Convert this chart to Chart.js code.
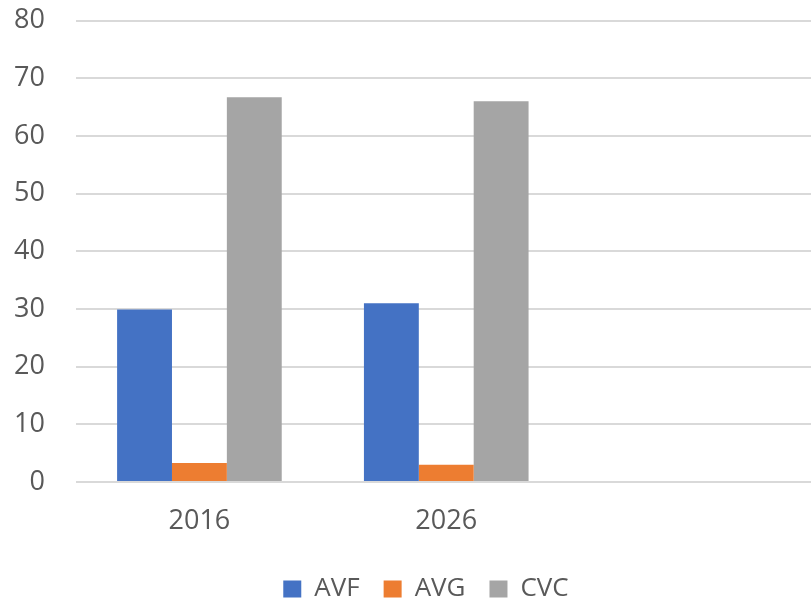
<!DOCTYPE html>
<html>
<head>
<meta charset="utf-8">
<script src="https://cdn.jsdelivr.net/npm/chart.js@4"></script>
<style>
  html, body { margin: 0; padding: 0; background: #fff; overflow: hidden; }
  #wrap { width: 852px; height: 612px; }
</style>
</head>
<body>
<div id="wrap"><canvas id="grafico"></canvas></div>
<script>
const anios = ['2016', '2026', ''];
const avf = [29.9, 31.0, null];
const avg = [3.3, 3.0, null];
const cvc = [66.7, 66.0, null];
const ticksY = [0, 10, 20, 30, 40, 50, 60, 70, 80];

const fuente = "'Open Sans', 'Segoe UI', sans-serif";
const gris = '#595959';

// la leyenda se centra en todo el ancho del gráfico, no solo entre los márgenes
const centrarLeyenda = {
  id: 'centrarLeyenda',
  afterLayout(chart) {
    const l = chart.legend;
    if (l) { l.left = 35.5; l.right = chart.width - 35.5; }
  }
};

new Chart(document.getElementById('grafico'), {
  type: 'bar',
  data: {
    labels: anios,
    datasets: [
      { label: 'AVF', data: avf, backgroundColor: '#4472C4' },
      { label: 'AVG', data: avg, backgroundColor: '#ED7D31' },
      { label: 'CVC', data: cvc, backgroundColor: '#A5A5A5' }
    ]
  },
  options: {
    responsive: true,
    maintainAspectRatio: false,
    animation: false,
    layout: { padding: { top: 20.5, left: 14, right: 35.5, bottom: 0 } },
    datasets: { bar: { barPercentage: 1, categoryPercentage: 0.667 } },
    scales: {
      x: {
        grid: { display: false, drawTicks: false },
        border: { display: false },
        ticks: { color: gris, font: { family: fuente, size: 27 }, padding: 23 },
        afterFit: s => { s.height = 70; }
      },
      y: {
        min: ticksY[0],
        max: ticksY[ticksY.length - 1],
        afterBuildTicks: s => { s.ticks = ticksY.map(v => ({ value: v })); },
        grid: { color: '#d9d9d9', lineWidth: 2, drawTicks: false },
        border: { display: false },
        ticks: { color: gris, font: { family: fuente, size: 27 }, padding: 31 },
        afterFit: s => { s.width = 62; s.paddingTop = 16; s.paddingBottom = 0; }
      }
    },
    plugins: {
      legend: {
        position: 'bottom',
        labels: {
          color: gris,
          font: { family: fuente, size: 26 },
          boxWidth: 18,
          boxHeight: 17,
          padding: 24
        }
      },
      tooltip: { enabled: false }
    }
  },
  plugins: [centrarLeyenda]
});
</script>
</body>
</html>
